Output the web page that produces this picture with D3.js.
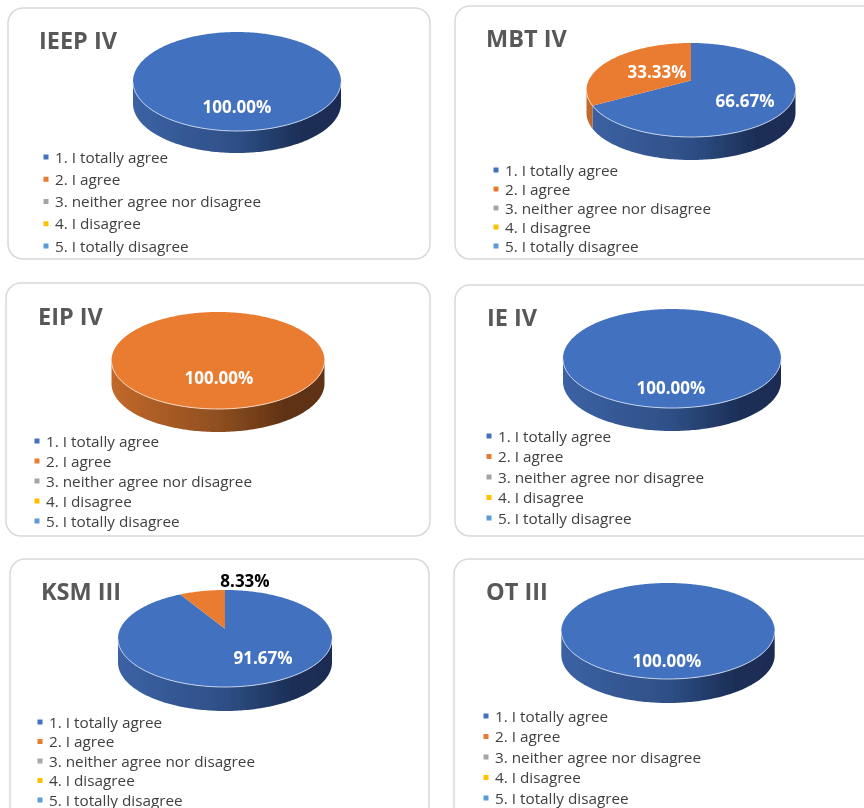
<!DOCTYPE html>
<html>
<head>
<meta charset="utf-8">
<script src="https://cdn.jsdelivr.net/npm/d3@7"></script>
<style>
  html, body { margin: 0; background: #fff; }
  svg { display: block; }
  text { font-family: "Open Sans", "Noto Sans", sans-serif; }
</style>
</head>
<body>
<svg></svg>
<script>
const categories = ['1. I totally agree', '2. I agree', '3. neither agree nor disagree', '4. I disagree', '5. I totally disagree'];
const colors = ['#4271C0', '#EA7C30', '#A5A5A5', '#FFC000', '#5B9BD5'];

const panelNames = ['IEEP IV', 'MBT IV', 'EIP IV', 'IE IV', 'KSM III', 'OT III'];
const ieepValues = [100, 0, 0, 0, 0];
const mbtValues = [66.67, 33.33, 0, 0, 0];
const eipValues = [0, 100, 0, 0, 0];
const ieValues = [100, 0, 0, 0, 0];
const ksmValues = [91.67, 8.33, 0, 0, 0];
const otValues = [100, 0, 0, 0, 0];
const panelValues = [ieepValues, mbtValues, eipValues, ieValues, ksmValues, otValues];

// card box, pie ellipse, title and legend placement per panel
const layout = [
  {card: [8, 8, 422, 251], cx: 237, rx: 104, top: 32, bottom: 131, depth: 22, titleX: 39, titleY: 40, legendX: 46, legendY: [156.5, 245.5], labels: [[237, 106]]},
  {card: [455, 6, 430, 253], cx: 691, rx: 104.5, top: 43, bottom: 137, depth: 23, titleX: 486, titleY: 38, legendX: 496, legendY: [169.5, 245.5], labels: [[745, 100], [657, 71]]},
  {card: [6, 283, 424, 253], cx: 218, rx: 106.5, top: 312, bottom: 409, depth: 23, titleX: 38, titleY: 316, legendX: 37, legendY: [440.5, 520.5], labels: [[219, 377]]},
  {card: [455, 285, 430, 251], cx: 672, rx: 109, top: 309, bottom: 408, depth: 23, titleX: 487, titleY: 317, legendX: 489, legendY: [435.5, 517.5], labels: [[671, 387]]},
  {card: [10, 559, 419, 270], cx: 225, rx: 107, top: 590, bottom: 687, depth: 24, titleX: 41, titleY: 591, legendX: 40, legendY: [721.5, 799.5], labels: [[263, 657], [245, 580]]},
  {card: [454, 559, 430, 270], cx: 668, rx: 106.7, top: 583, bottom: 679, depth: 24, titleX: 486, titleY: 591, legendX: 486, legendY: [715.5, 797.5], labels: [[667, 660]]}
];

const width = 864;
const height = 808;
const svg = d3.select('svg').attr('width', width).attr('height', height);
const defs = svg.append('defs');

const blur = defs.append('filter').attr('id', 'soft')
  .attr('x', '-5%').attr('y', '-5%').attr('width', '110%').attr('height', '110%');
blur.append('feGaussianBlur').attr('stdDeviation', 0.4);

// side wall shading, light on the left and dark on the right
const sideStops = {};
sideStops[colors[0]] = ['#3c62a4', '#2e4f86', '#1b2e55', '#1a2c52'];
sideStops[colors[1]] = ['#c2682a', '#8f4f20', '#5f3213', '#5f3213'];
const stopAt = [0, 0.5, 0.82, 1];

// tilted disc: pie centre sits above the ellipse centre because of perspective
const tilt = -0.2;
const pie = d3.pie().sort(null).value(d => d.value);
const line = d3.line();
const step = Math.PI / 180;

const draw = (values, name, box, index) => {
  const g = svg.append('g').attr('filter', 'url(#soft)');
  const [cardX, cardY, cardW, cardH] = box.card;

  g.append('rect')
    .attr('x', cardX).attr('y', cardY)
    .attr('width', cardW).attr('height', cardH)
    .attr('rx', 15)
    .attr('fill', '#fff')
    .attr('stroke', '#d9d9d9')
    .attr('stroke-width', 1.5);

  const xScale = d3.scaleLinear().domain([-1, 1]).range([box.cx - box.rx, box.cx + box.rx]);
  const yScale = d3.scaleLinear().domain([-1, 1]).range([box.top, box.bottom]);

  // unit position of pie angle a on the tilted disc
  const unit = a => {
    const v = -Math.cos(a);
    const w = 1 + tilt * v;
    return [Math.sin(a) * Math.sqrt(1 - tilt * tilt) / w, (v + tilt) / w];
  };
  const toScreen = p => [xScale(p[0]), yScale(p[1])];
  const samples = d => d3.range(d.startAngle, d.endAngle, step).concat(d.endAngle);
  const frontEdge = d => samples(d).map(unit).filter(p => p[1] >= 0).map(toScreen);

  const data = values.map((value, i) => ({value, color: colors[i]}));
  const slices = pie(data).filter(d => d.value > 0);

  // one gradient over the whole disc width for each colour used here
  slices.forEach((d, i) => {
    const grad = defs.append('linearGradient')
      .attr('id', 'side' + index + '-' + i)
      .attr('gradientUnits', 'userSpaceOnUse')
      .attr('x1', xScale(-1)).attr('x2', xScale(1))
      .attr('y1', 0).attr('y2', 0);
    sideStops[d.data.color].forEach((s, j) => {
      grad.append('stop').attr('offset', stopAt[j]).attr('stop-color', s);
    });
  });

  // walls first, only the front half of the rim can be seen
  slices.forEach((d, i) => {
    const front = frontEdge(d);
    if (front.length < 2) return;
    const lower = front.map(p => [p[0], p[1] + box.depth]).reverse();
    g.append('path')
      .attr('d', line(front.concat(lower)) + 'Z')
      .attr('fill', 'url(#side' + index + '-' + i + ')');
  });

  slices.forEach(d => {
    const edge = samples(d).map(unit).map(toScreen);
    const pts = d.value >= 100 ? edge : [[box.cx, yScale(tilt)]].concat(edge);
    g.append('path')
      .attr('d', line(pts) + 'Z')
      .attr('fill', d.data.color);
  });

  slices.forEach(d => {
    const front = frontEdge(d);
    if (front.length < 2) return;
    g.append('path')
      .attr('d', line(front))
      .attr('fill', 'none')
      .attr('stroke', d3.interpolateRgb(d.data.color, '#fff')(0.7))
      .attr('stroke-width', 1);
  });

  g.append('text')
    .attr('x', box.titleX).attr('y', box.titleY)
    .attr('dominant-baseline', 'central')
    .attr('font-size', 23.5)
    .attr('font-weight', 700)
    .attr('fill', '#595959')
    .text(name);

  slices.forEach((d, i) => {
    // small slices keep their label outside the disc
    const small = d.value < 10;
    g.append('text')
      .attr('x', box.labels[i][0]).attr('y', box.labels[i][1])
      .attr('text-anchor', 'middle')
      .attr('dominant-baseline', 'central')
      .attr('font-size', 17)
      .attr('font-weight', 700)
      .attr('fill', small ? '#000' : '#fff')
      .text(d3.format('.2f')(d.value) + '%');
  });

  const legendY = d3.scalePoint().domain(categories).range(box.legendY);
  const legend = g.selectAll('.legend').data(categories).enter().append('g')
    .attr('class', 'legend')
    .attr('transform', d => 'translate(' + box.legendX + ',' + legendY(d) + ')');
  legend.append('rect')
    .attr('x', -2.5).attr('y', -2)
    .attr('width', 5).attr('height', 5)
    .attr('fill', (d, i) => colors[i]);
  legend.append('text')
    .attr('x', 9)
    .attr('dominant-baseline', 'central')
    .attr('font-size', 15.3)
    .attr('fill', '#404040')
    .text(d => d);
};

panelNames.forEach((name, i) => draw(panelValues[i], name, layout[i], i));
</script>
</body>
</html>
